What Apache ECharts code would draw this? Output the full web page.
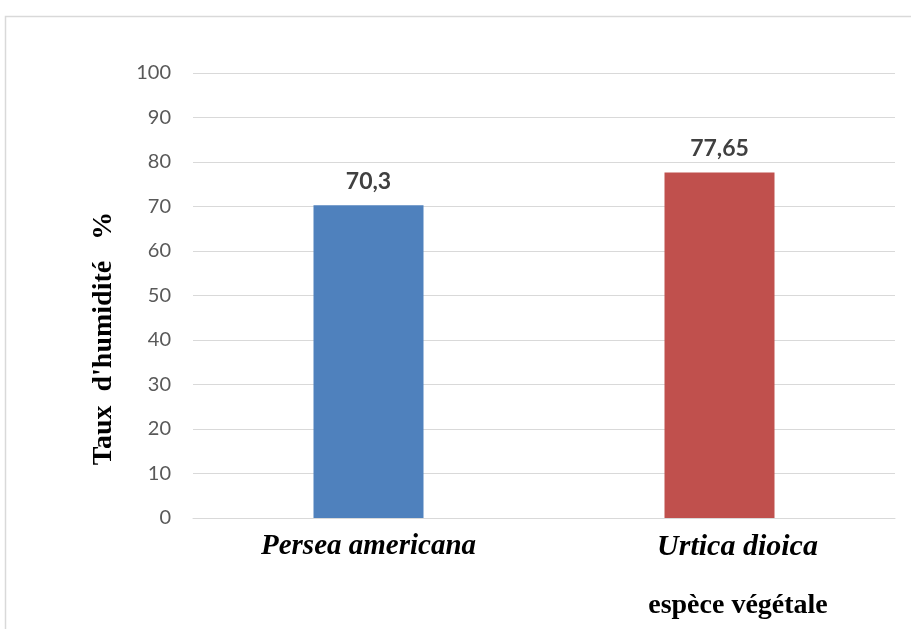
<!DOCTYPE html>
<html>
<head>
<meta charset="utf-8">
<style>
  html, body { margin: 0; padding: 0; background: #ffffff; }
  #chart { width: 911px; height: 629px; }
</style>
<script src="https://cdn.jsdelivr.net/npm/echarts@6/dist/echarts.min.js"></script>
</head>
<body>
<div id="chart"></div>
<script>
// Moisture content per plant species
const species = ['Persea americana', 'Urtica dioica'];
const moisture = [70.3, 77.65];
const barColors = ['#4F81BD', '#C0504D'];

const chart = echarts.init(document.getElementById('chart'));

// The second species label sits a little further right
const categoryItems = species.map((name, i) => i === 1
  ? { value: name, textStyle: { fontSize: 30, padding: [0, 0, 0, 36] } }
  : name);

chart.setOption({
  animation: false,
  backgroundColor: '#ffffff',
  graphic: [{
    type: 'rect',
    shape: { x: 5.5, y: 16.5, width: 920, height: 640 },
    style: { fill: 'none', stroke: '#d9d9d9', lineWidth: 1.5 },
    silent: true
  }],
  grid: { left: 193, right: 16, top: 73, bottom: 111 },
  xAxis: {
    type: 'category',
    data: categoryItems,
    axisLine: { show: true, lineStyle: { color: '#d9d9d9', width: 1 } },
    axisTick: { show: false },
    axisLabel: {
      margin: 14,
      color: '#000000',
      fontFamily: 'Liberation Serif',
      fontStyle: 'italic',
      fontWeight: 'bold',
      fontSize: 29
    },
    name: 'espèce végétale',
    nameLocation: 'middle',
    nameGap: 74,
    nameTextStyle: {
      color: '#000000',
      fontFamily: 'Liberation Serif',
      fontWeight: 'bold',
      fontSize: 28,
      padding: [0, 0, 0, 388]
    }
  },
  yAxis: {
    type: 'value',
    min: 0,
    max: 100,
    interval: 10,
    axisLine: { show: false },
    axisTick: { show: false },
    splitLine: { lineStyle: { color: '#d9d9d9', width: 1 } },
    axisLabel: {
      margin: 22,
      color: '#595959',
      fontFamily: 'Lato',
      fontSize: 20
    },
    name: "Taux  d'humidité   %",
    nameLocation: 'middle',
    nameGap: 75,
    nameRotate: 90,
    nameTextStyle: {
      color: '#000000',
      fontFamily: 'Liberation Serif',
      fontWeight: 'bold',
      fontSize: 28,
      padding: [0, 86, 0, 0]
    }
  },
  series: [{
    type: 'bar',
    barWidth: 110,
    data: moisture.map((v, i) => ({ value: v, itemStyle: { color: barColors[i] } })),
    label: {
      show: true,
      position: 'top',
      distance: 12,
      color: '#404040',
      fontFamily: 'Lato',
      fontWeight: 'bold',
      fontSize: 23,
      formatter: p => String(p.value).replace('.', ',')
    }
  }]
});
</script>
</body>
</html>
